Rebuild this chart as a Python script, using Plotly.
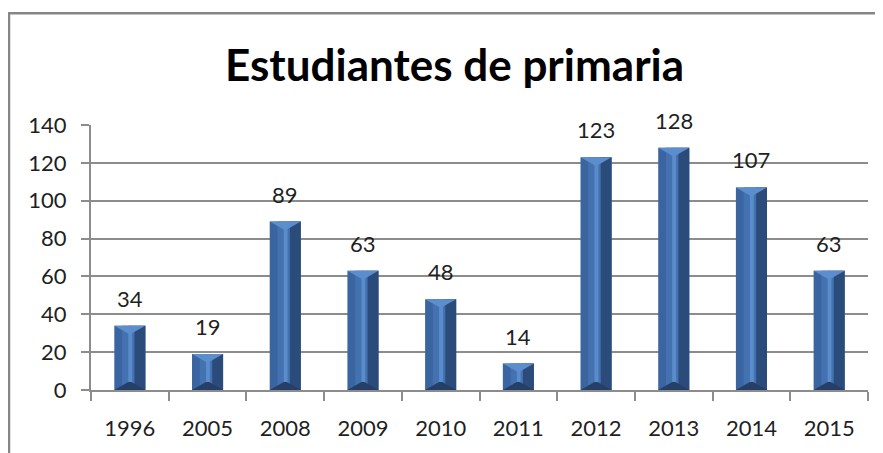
import plotly.graph_objects as go

years = ["1996", "2005", "2008", "2009", "2010", "2011", "2012", "2013", "2014", "2015"]
students = [34, 19, 89, 63, 48, 14, 123, 128, 107, 63]
y_ticks = [0, 20, 40, 60, 80, 100, 120, 140]
title_text = "Estudiantes de primaria"

FONT = "Lato"
GRID = "#8c8c8c"
xs = list(range(len(years)))
HW = 0.2      # half bar width (x units)
CAP = 4.2     # bevel depth (y units)

# figure-pixel geometry (page has an 8px body margin)
L, R, T, B = 83, 15, 117, 60
W, H = 875, 445
PW, PH = W - L - R, H - T - B


def px(xp):
    return (xp - L) / PW


def py(yp):
    return (H - B - yp) / PH


fig = go.Figure()

fig.add_trace(go.Bar(x=xs, y=students, width=2 * HW, marker=dict(color="#3b65a1", line=dict(width=0)),
                     hoverinfo="skip"))
fig.add_trace(go.Bar(x=xs, y=students, width=0.15, offset=0.05, marker=dict(color="#2b4b7a", line=dict(width=0)),
                     hoverinfo="skip"))
fig.add_trace(go.Bar(x=xs, y=students, width=0.16, offset=-0.1, marker=dict(color="#4472b0", line=dict(width=0)),
                     hoverinfo="skip"))
fig.add_trace(go.Bar(x=xs, y=students, width=0.05, offset=-0.02, marker=dict(color="#5a8bcb", line=dict(width=0)),
                     hoverinfo="skip"))

tx, ty, bx, by = [], [], [], []
for i, v in zip(xs, students):
    d = min(CAP, v / 2)
    tx += [i - HW, i + HW, i + 0.02, i - 0.02, i - HW, None]
    ty += [v, v, v - d, v - d, v, None]
    bx += [i - HW, i + HW, i + 0.02, i - 0.02, i - HW, None]
    by += [0, 0, d, d, 0, None]
fig.add_trace(go.Scatter(x=tx, y=ty, mode="lines", fill="toself", fillcolor="#5c8dcc",
                         line=dict(width=0, color="#5c8dcc"), hoverinfo="skip"))
fig.add_trace(go.Scatter(x=bx, y=by, mode="lines", fill="toself", fillcolor="#253f66",
                         line=dict(width=0, color="#253f66"), hoverinfo="skip"))

annotations = [
    dict(x=i, y=v, text=str(v), showarrow=False, yanchor="bottom", yshift=12,
         font=dict(family=FONT, size=22, color="#1f1f1f"))
    for i, v in zip(xs, students)
]
annotations.append(dict(x=px(446), y=py(55), xref="paper", yref="paper",
                        text="<b>" + title_text + "</b>", showarrow=False,
                        xanchor="center", yanchor="middle",
                        font=dict(family=FONT, size=44, color="#000000")))

shapes = [
    dict(type="line", xref="paper", yref="paper", x0=px(1), x1=px(1),
         y0=py(4), y1=py(H + 5), line=dict(color="#868686", width=2.5)),
    dict(type="line", xref="paper", yref="paper", x0=px(0), x1=px(W + 5),
         y0=py(4), y1=py(4), line=dict(color="#868686", width=2.5)),
]

fig.update_layout(
    width=W, height=H,
    margin=dict(l=L, r=R, t=T, b=B),
    paper_bgcolor="white", plot_bgcolor="white",
    showlegend=False, barmode="overlay",
    annotations=annotations, shapes=shapes,
    font=dict(family=FONT, size=22, color="#1f1f1f"),
)
fig.update_xaxes(
    range=[-0.5, len(years) - 0.5], tickvals=xs, ticktext=years,
    ticks="outside", ticklen=18, tickcolor="rgba(0,0,0,0)",
    showline=True, linecolor=GRID, linewidth=2, showgrid=False, zeroline=False,
    minor=dict(tick0=-0.5, dtick=1, ticks="outside", ticklen=9, tickcolor=GRID, tickwidth=2),
    tickfont=dict(family=FONT, size=22, color="#1f1f1f"),
)
fig.update_yaxes(
    range=[0, 140], tickvals=y_ticks, ticks="outside", ticklen=8, tickcolor=GRID, tickwidth=2,
    showline=True, linecolor=GRID, linewidth=2, showgrid=True, gridcolor=GRID, gridwidth=2,
    zeroline=False, ticklabelstandoff=10,
    tickfont=dict(family=FONT, size=22, color="#1f1f1f"),
)

fig.write_html("out.html")
